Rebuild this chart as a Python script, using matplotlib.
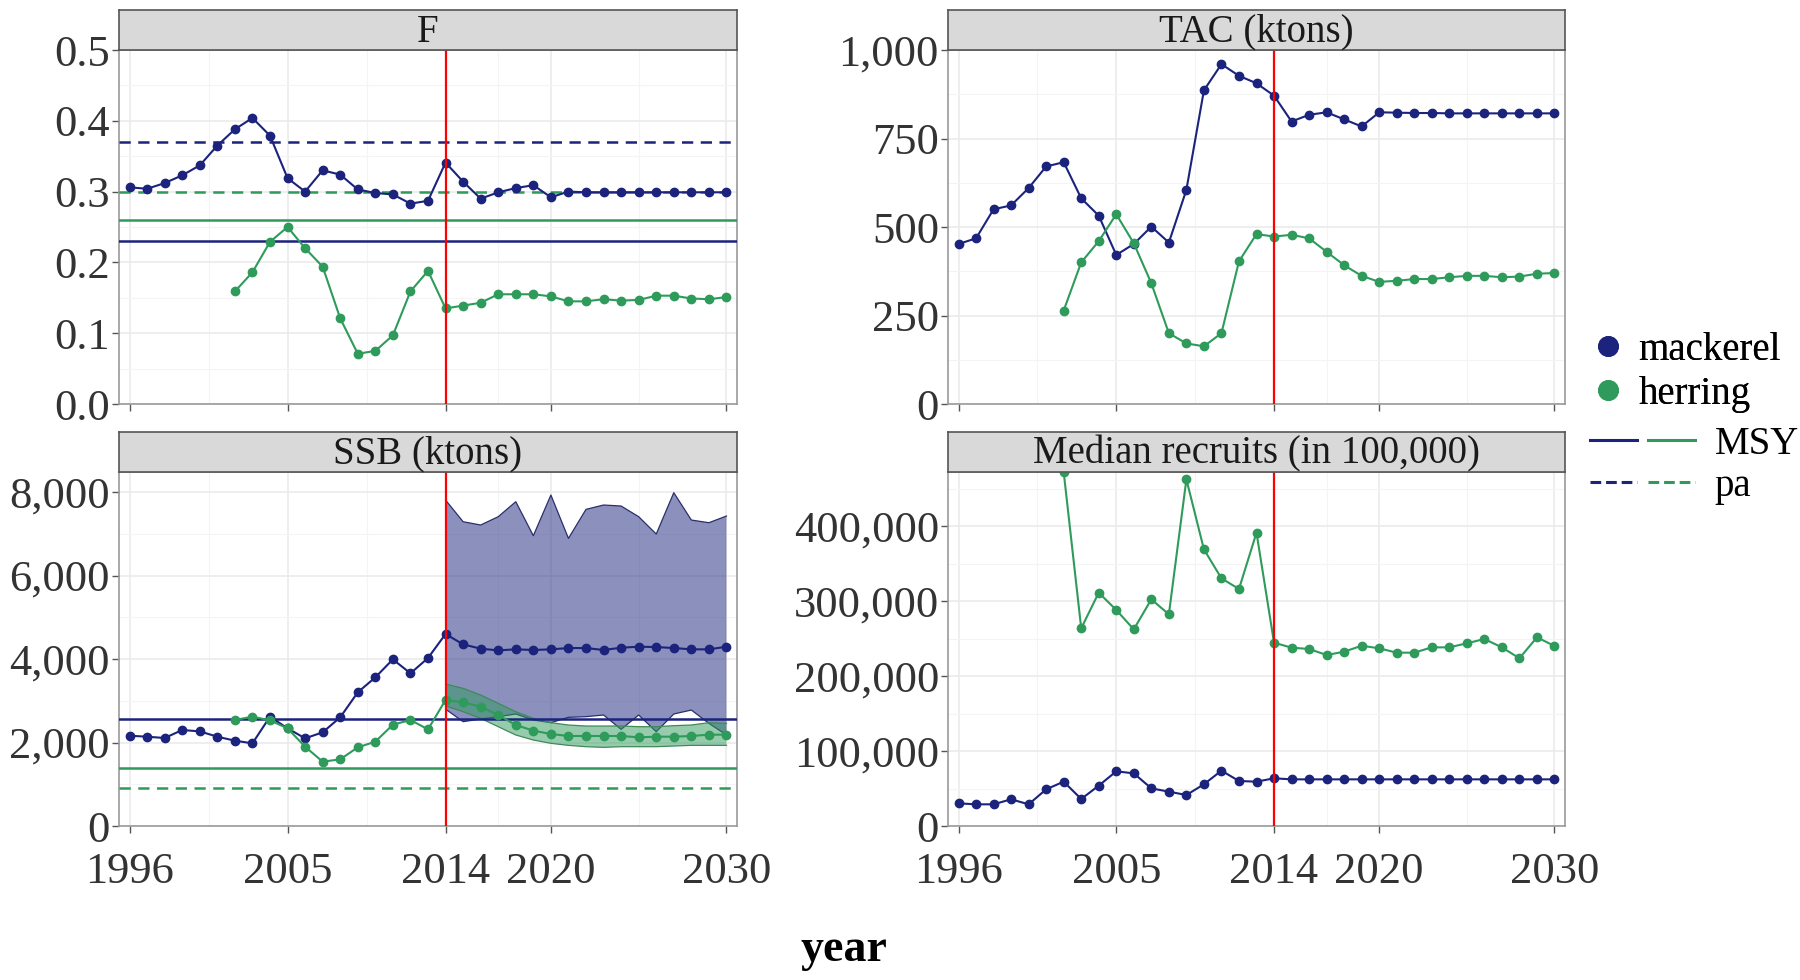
import numpy as np
import matplotlib
matplotlib.use("Agg")
import matplotlib.pyplot as plt
from matplotlib.ticker import FuncFormatter, FixedLocator
from matplotlib.lines import Line2D
from matplotlib.legend_handler import HandlerTuple

plt.rcParams['font.family'] = ['Liberation Serif', 'DejaVu Serif']

# ---- data ----
years = np.arange(1996, 2031)
years_her = np.arange(2002, 2031)
years_proj = np.arange(2014, 2031)

f_mac = [0.306, 0.304, 0.312, 0.323, 0.337, 0.365, 0.388, 0.404, 0.379, 0.319,
         0.300, 0.330, 0.324, 0.303, 0.298, 0.296, 0.283, 0.287, 0.341, 0.314,
         0.290, 0.299, 0.305, 0.309, 0.292, 0.300, 0.299, 0.299, 0.299, 0.299,
         0.299, 0.299, 0.299, 0.299, 0.299]
f_her = [0.159, 0.186, 0.229, 0.250, 0.220, 0.194, 0.121, 0.071, 0.075, 0.097,
         0.159, 0.188, 0.135, 0.139, 0.143, 0.155, 0.155, 0.155, 0.152, 0.145,
         0.145, 0.148, 0.146, 0.147, 0.153, 0.153, 0.149, 0.148, 0.151]

tac_mac = [452, 468, 550, 561, 610, 671, 683, 581, 532, 421,
           452, 501, 456, 605, 886, 960, 927, 906, 871, 798,
           817, 824, 804, 784, 824, 823, 822, 822, 821, 821,
           821, 821, 821, 821, 821]
tac_her = [264, 400, 460, 536, 454, 341, 200, 171, 163, 200,
           403, 480, 473, 478, 468, 430, 392, 362, 345, 348,
           353, 353, 358, 362, 362, 358, 360, 368, 370]

ssb_mac = [2163, 2139, 2108, 2299, 2267, 2139, 2044, 1980, 2619, 2339,
           2100, 2244, 2603, 3202, 3561, 3992, 3657, 4024, 4599, 4351,
           4247, 4207, 4232, 4216, 4232, 4263, 4263, 4216, 4271, 4295,
           4287, 4263, 4232, 4232, 4295]
ssb_her = [2539, 2619, 2531, 2339, 1900, 1541, 1597, 1884, 2020, 2427,
           2539, 2315, 3018, 2962, 2858, 2659, 2419, 2284, 2204, 2156,
           2156, 2156, 2156, 2124, 2140, 2140, 2156, 2188, 2188]
ssb_mac_hi = [7808, 7289, 7210, 7409, 7768, 6954, 7928, 6890, 7585, 7689,
              7665, 7409, 6994, 7984, 7329, 7265, 7425]
ssb_mac_lo = [2800, 2499, 2563, 2619, 2683, 2539, 2475, 2603, 2619, 2659,
              2315, 2659, 2259, 2683, 2778, 2459, 2180]
ssb_her_hi = [3401, 3297, 3138, 2938, 2738, 2579, 2475, 2419, 2395, 2395,
              2395, 2379, 2379, 2403, 2419, 2475, 2459]
ssb_her_lo = [2880, 2738, 2579, 2379, 2180, 2060, 1980, 1932, 1900, 1884,
              1900, 1900, 1900, 1916, 1932, 1932, 1932]

rec_mac = [30200, 28900, 28900, 35600, 28900, 48900, 59100, 36000, 53800, 72900,
           70200, 50200, 45800, 41300, 55600, 73800, 60000, 59100, 63600, 62200,
           62200, 62200, 62200, 62200, 62200, 62200, 62200, 62200, 62200, 62200,
           62200, 62200, 62200, 62200, 62200]
rec_her = [472000, 263600, 311100, 288000, 262200, 302200, 282200, 462200, 368900, 330200,
           316000, 391100, 244400, 237800, 236000, 228000, 232400, 240400, 236900, 231100,
           231100, 238200, 238200, 243600, 249300, 238200, 223600, 251600, 240000]

# reference points
f_msy = {'mackerel': 0.23, 'herring': 0.26}
f_pa = {'mackerel': 0.37, 'herring': 0.30}
ssb_msy = {'mackerel': 2570, 'herring': 1400}
ssb_pa = {'herring': 900}

x_breaks = [1996, 2005, 2014, 2020, 2030]
x_minor = [2000.5, 2009.5, 2017, 2025]

MAC = '#1b237c'
HER = '#2e9b5b'
RED = '#ff0000'
W, H = 1800, 980
TICK_FS = 32
DASH = (0, (4.5, 3))

fig = plt.figure(figsize=(W / 100, H / 100), dpi=100)


def panel(left, top, width, height, title, ylim, major, minor, fmt, xlabels):
    ax = fig.add_axes([left / W, 1 - (top + height) / H, width / W, height / H])
    strip = fig.add_axes([left / W, 1 - top / H, width / W, 40 / H])
    strip.set_facecolor('#d9d9d9')
    strip.set_xticks([])
    strip.set_yticks([])
    for s in strip.spines.values():
        s.set_color('#555555')
        s.set_linewidth(1.2)
    strip.text(0.5, 0.45, title, ha='center', va='center', fontsize=28,
               color='#1a1a1a', transform=strip.transAxes)

    ax.set_xlim(1995.4, 2030.6)
    ax.set_ylim(*ylim)
    ax.xaxis.set_major_locator(FixedLocator(x_breaks))
    ax.xaxis.set_minor_locator(FixedLocator(x_minor))
    ax.yaxis.set_major_locator(FixedLocator(major))
    ax.yaxis.set_minor_locator(FixedLocator(minor))
    ax.yaxis.set_major_formatter(FuncFormatter(fmt))
    ax.grid(which='major', color='#ebebeb', lw=1.2, zorder=0)
    ax.grid(which='minor', color='#f4f4f4', lw=0.8, zorder=0)
    ax.set_axisbelow(True)
    ax.tick_params(which='minor', length=0)
    ax.tick_params(axis='y', which='major', length=5, width=1, color='#555555',
                   labelsize=TICK_FS, labelcolor='#333333', pad=1.5)
    ax.tick_params(axis='x', which='major', length=5, width=1, color='#555555',
                   labelsize=TICK_FS, labelcolor='#333333', pad=14,
                   labelbottom=xlabels)
    for s in ax.spines.values():
        s.set_color('#999999')
        s.set_linewidth(1.2)
    return ax


def series(ax, x, y, color):
    ax.plot(x, y, color=color, lw=1.5, marker='o', ms=6, zorder=4, clip_on=True)


big = lambda v, p: f"{v:,.0f}"

# F
ax = panel(119, 50, 618, 354, 'F', (0, 0.5), [0, 0.1, 0.2, 0.3, 0.4, 0.5],
           [0.05, 0.15, 0.25, 0.35, 0.45], lambda v, p: f"{v:.1f}", False)
ax.axhline(f_pa['mackerel'], color=MAC, lw=1.8, ls=DASH, zorder=3)
ax.axhline(f_pa['herring'], color=HER, lw=1.8, ls=DASH, zorder=3)
ax.axhline(f_msy['herring'], color=HER, lw=1.8, zorder=3)
ax.axhline(f_msy['mackerel'], color=MAC, lw=1.8, zorder=3)
series(ax, years, f_mac, MAC)
series(ax, years_her, f_her, HER)
ax.axvline(2014, color=RED, lw=1.6, zorder=6)

# TAC
ax = panel(948, 50, 617, 354, 'TAC (ktons)', (0, 1000), [0, 250, 500, 750, 1000],
           [125, 375, 625, 875], big, False)
series(ax, years, tac_mac, MAC)
series(ax, years_her, tac_her, HER)
ax.axvline(2014, color=RED, lw=1.6, zorder=6)

# SSB
ax = panel(119, 472, 618, 354, 'SSB (ktons)', (0, 8480), [0, 2000, 4000, 6000, 8000],
           [1000, 3000, 5000, 7000], big, True)
ax.fill_between(years_proj, ssb_mac_lo, ssb_mac_hi, facecolor=MAC, alpha=0.5,
                edgecolor='none', zorder=1)
ax.plot(years_proj, ssb_mac_hi, color='#2a2f6a', lw=0.9, zorder=1.5)
ax.plot(years_proj, ssb_mac_lo, color='#2a2f6a', lw=0.9, zorder=1.5)
ax.fill_between(years_proj, ssb_her_lo, ssb_her_hi, facecolor=HER, alpha=0.5,
                edgecolor='none', zorder=2)
ax.plot(years_proj, ssb_her_hi, color='#3f8a5a', lw=0.9, zorder=2.5)
ax.plot(years_proj, ssb_her_lo, color='#3f8a5a', lw=0.9, zorder=2.5)
ax.axhline(ssb_pa['herring'], color=HER, lw=1.8, ls=DASH, zorder=3)
ax.axhline(ssb_msy['herring'], color=HER, lw=1.8, zorder=3)
ax.axhline(ssb_msy['mackerel'], color=MAC, lw=1.8, zorder=3)
series(ax, years, ssb_mac, MAC)
series(ax, years_her, ssb_her, HER)
ax.axvline(2014, color=RED, lw=1.6, zorder=6)

# Recruits
ax = panel(948, 472, 617, 354, 'Median recruits (in 100,000)', (0, 472000),
           [0, 100000, 200000, 300000, 400000],
           [50000, 150000, 250000, 350000, 450000], big, True)
series(ax, years, rec_mac, MAC)
series(ax, years_her, rec_her, HER)
ax.axvline(2014, color=RED, lw=1.6, zorder=6)

fig.text(844 / W, 1 - 950 / H, 'year', ha='center', va='center',
         fontsize=33, fontweight='bold', color='black')

# legends
pts = [Line2D([], [], ls='none', marker='o', ms=14, color=MAC),
       Line2D([], [], ls='none', marker='o', ms=14, color=HER)]
leg1 = fig.legend(pts, ['mackerel', 'herring'], loc='upper left',
                  bbox_to_anchor=(1590 / W, 1 - 332 / H), frameon=False,
                  fontsize=28, handlelength=0.9, handletextpad=0.35,
                  labelspacing=0.18, borderpad=0, borderaxespad=0)
fig.add_artist(leg1)
lines = [(Line2D([], [], color=MAC, lw=2.2), Line2D([], [], color=HER, lw=2.2)),
         (Line2D([], [], color=MAC, lw=2.2, ls=(0, (3.5, 1.6))),
          Line2D([], [], color=HER, lw=2.2, ls=(0, (3.5, 1.6))))]
fig.legend(lines, ['MSY', 'pa'], loc='upper left',
           bbox_to_anchor=(1590 / W, 1 - 426 / H), frameon=False, fontsize=28,
           handlelength=2.7, handletextpad=0.5, labelspacing=0.13,
           borderpad=0, borderaxespad=0,
           handler_map={tuple: HandlerTuple(ndivide=None, pad=0.28)})

fig.savefig('out.png', dpi=100)
